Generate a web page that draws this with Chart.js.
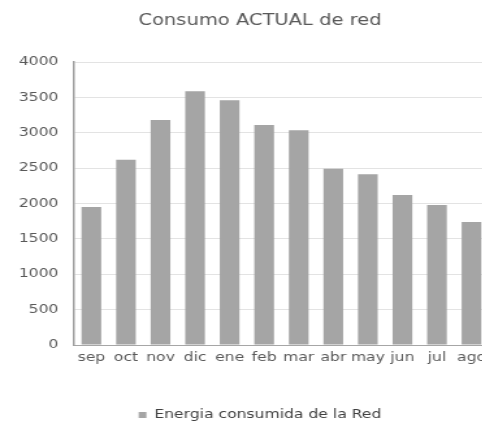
<!DOCTYPE html>
<html>
<head>
<meta charset="utf-8">
<script src="https://cdn.jsdelivr.net/npm/chart.js@4"></script>
<style>
  html, body { margin: 0; padding: 0; background: #fff; overflow: hidden; }
  #wrap { width: 482px; height: 426px; overflow: hidden; position: relative; }
  #box { width: 400px; height: 436px; transform: scaleX(1.3); transform-origin: 0 0; }
</style>
</head>
<body>
<div id="wrap"><div id="box"><canvas id="chart" width="400" height="436"></canvas></div></div>
<script>
const months = ['sep', 'oct', 'nov', 'dic', 'ene', 'feb', 'mar', 'abr', 'may', 'jun', 'jul', 'ago'];
const energiaRed = [1950, 2620, 3180, 3585, 3460, 3110, 3035, 2490, 2415, 2120, 1980, 1740];
const seriesName = 'Energia consumida de la Red';
const chartTitle = 'Consumo ACTUAL de red';

const textColor = '#595959';
const font = 'DejaVu Sans';

const ctx = document.getElementById('chart').getContext('2d');
const myChart = new Chart(ctx, {
    type: 'bar',
    data: {
        labels: months,
        datasets: [
            {
                label: seriesName,
                data: energiaRed,
                backgroundColor: '#a5a5a5',
                borderWidth: 0,
                barPercentage: 0.57,
                categoryPercentage: 1.0
            }
        ]
    },
    options: {
        responsive: false,
        animation: false,
        layout: { padding: { left: 0, right: 0, top: 0, bottom: 5 } },
        plugins: {
            title: {
                display: true,
                text: chartTitle,
                color: textColor,
                font: { family: font, size: 15, weight: 'normal' },
                padding: { top: 12, bottom: 32 }
            },
            legend: {
                position: 'bottom',
                labels: {
                    color: '#404040',
                    font: { family: font, size: 12 },
                    boxWidth: 6,
                    boxHeight: 6,
                    padding: 5
                }
            },
            tooltip: { enabled: false }
        },
        scales: {
            x: {
                grid: { display: false, drawTicks: false },
                border: { display: true, color: '#a6a6a6', width: 1 },
                ticks: { color: textColor, font: { family: font, size: 12 }, padding: 6, maxRotation: 0, autoSkip: false },
                afterFit: scale => { scale.height = 59; }
            },
            y: {
                min: 0,
                max: 4000,
                ticks: {
                    stepSize: 500,
                    color: textColor,
                    font: { family: font, size: 12 },
                    padding: 12,
                    callback: value => String(value)
                },
                grid: { color: '#e3e3e3', drawTicks: false },
                border: { display: true, color: '#a0a0a0', width: 1.5 },
                afterFit: scale => { scale.width = 57; }
            },
            // empty right side, keeps the title and legend centred on the whole chart
            yRight: {
                position: 'right',
                display: true,
                ticks: { display: false },
                grid: { display: false, drawTicks: false },
                border: { display: false },
                afterFit: scale => { scale.width = 24; }
            }
        }
    }
});
</script>
</body>
</html>
